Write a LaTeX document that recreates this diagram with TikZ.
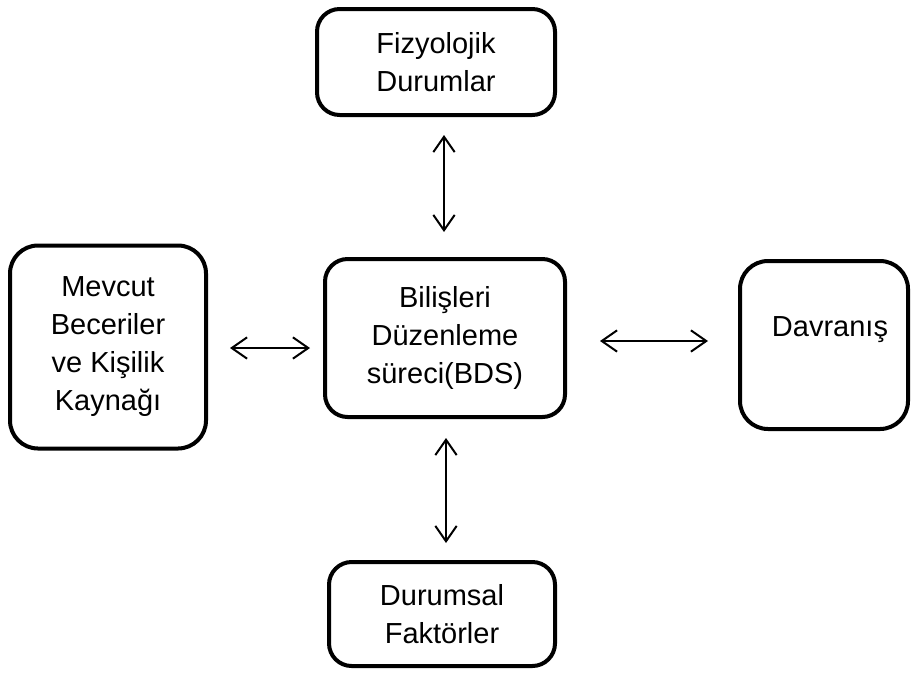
\documentclass[tikz,border=0pt]{standalone}
\usepackage{fontspec}
\setmainfont{Liberation Sans}
\usetikzlibrary{arrows.meta,calc}
\begin{document}
\begin{tikzpicture}[x=0.75pt,y=-0.75pt,
  box/.style={draw=black,line width=3pt,rounded corners=17pt,align=center,inner sep=0pt,
    font=\fontsize{21.75pt}{28.5pt}\selectfont},
  bigbox/.style={box,rounded corners=21pt},
  arr/.style={line width=1.5pt,{Straight Barb[length=11.5pt,width=16pt]}-{Straight Barb[length=11.5pt,width=16pt]}},
  lbl/.style={inner sep=0pt,font=\fontsize{21.75pt}{28.5pt}\selectfont}]
\useasboundingbox (0,0) rectangle (912,675);
\node[box,minimum width=178.5pt,minimum height=79.5pt] (fiz) at (436,62) {Fizyolojik\\Durumlar};
\node[box,minimum width=180pt,minimum height=118.5pt] (bds) at (445,338) {Bilişleri\\Düzenleme\\süreci(BDS)};
\node[bigbox,minimum width=147pt,minimum height=152.25pt] (mev) at (108,347) {Mevcut\\Beceriler\\ve Kişilik\\Kaynağı};
\node[bigbox,minimum width=126pt,minimum height=126pt] (dav) at (824,345) {};
\node[lbl] (davt) at (830,330) {Davranış};
\node[box,minimum width=169.5pt,minimum height=78pt] (dur) at (442,614) {Durumsal\\Faktörler};
\draw[arr] ($(fiz.south)+(8,18)$) -- ($(bds.north)+(-1,-25)$);
\draw[arr] ($(bds.south)+(1,19)$) -- ($(dur.north)+(4,-17)$);
\draw[arr] ($(mev.east)+(22,1)$) -- ($(bds.west)+(-13,10)$);
\draw[arr] ($(bds.east)+(33,3)$) -- ($(dav.west)+(-30,-4)$);
\end{tikzpicture}
\end{document}
